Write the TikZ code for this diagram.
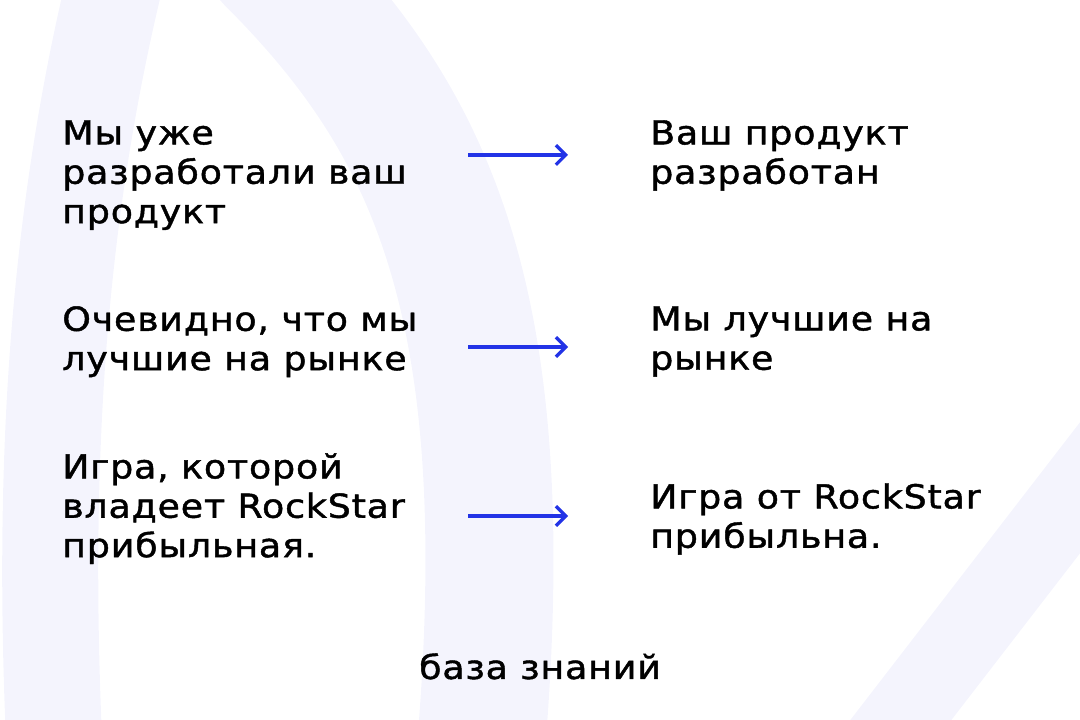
\documentclass[tikz,border=0pt]{standalone}
\usepackage{fontspec}
\setmainfont{DejaVu Sans}[LetterSpace=2.5,FakeBold=1.3,FakeStretch=1.1]
\usetikzlibrary{positioning,arrows.meta}
\definecolor{bandc}{HTML}{F4F4FD}
\definecolor{arrowc}{HTML}{2233E6}
\tikzset{
  txt/.style={anchor=north west, align=left, inner sep=0pt, font=\fontsize{23.5}{28}\selectfont},
  arr/.style={->, arrowc, line width=2.3pt, >={Straight Barb[length=7pt,width=14pt]}},
  band/.style={bandc, line cap=round}
}
\begin{document}
\begin{tikzpicture}[x=0.025cm, y=-0.025cm]
\useasboundingbox (0,0) rectangle (1080,720);
% background bands
\draw[band, line width=2.4cm] (120,-40) .. controls (60,200) and (40,450) .. (55,760);
\draw[band, line width=3.2cm] (270,-40) .. controls (430,120) and (520,300) .. (480,760);
\draw[band, line width=2cm] (1140,410) -- (870,760);
% texts
\node[txt] (l1) at (62,120) {Мы уже\\разработали ваш\\продукт};
\node[txt] (l2) at (62,306) {Очевидно, что мы\\лучшие на рынке};
\node[txt] (l3) at (62,453) {Игра, которой\\владеет RockStar\\прибыльная.};
\node[txt] (r1) at (650,120) {Ваш продукт\\разработан};
\node[txt] (r2) at (650,306) {Мы лучшие на\\рынке};
\node[txt] (r3) at (650,483) {Игра от RockStar\\прибыльна.};
\node[txt, anchor=north] (foot) at (540,653) {база знаний};
% arrows
\coordinate (a1s) at (468,155); \coordinate (a1e) at (568,155);
\coordinate (a2s) at (468,347); \coordinate (a2e) at (568,347);
\coordinate (a3s) at (468,516); \coordinate (a3e) at (568,516);
\draw[arr] (a1s) -- (a1e);
\draw[arr] (a2s) -- (a2e);
\draw[arr] (a3s) -- (a3e);
\end{tikzpicture}
\end{document}
